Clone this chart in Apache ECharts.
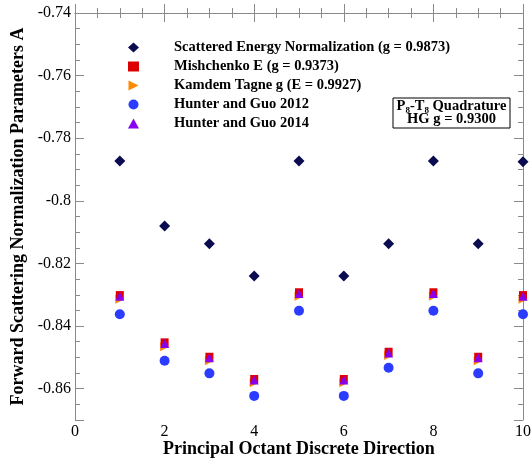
<!DOCTYPE html>
<html>
<head>
<meta charset="utf-8">
<script src="https://cdn.jsdelivr.net/npm/echarts@6/dist/echarts.min.js"></script>
<style>html,body{margin:0;padding:0;background:#fff}#c{width:532px;height:460px}</style>
</head>
<body>
<div id="c"></div>
<script>
// ---- data ----
const directions = [1, 2, 3, 4, 5, 6, 7, 8, 9, 10];
const scatteredEnergy = [-0.7873, -0.8080, -0.8137, -0.8240, -0.7873, -0.8240, -0.8137, -0.7873, -0.8137, -0.7875];
const mishchenko = [-0.8301, -0.8452, -0.8498, -0.8569, -0.8292, -0.8569, -0.8482, -0.8292, -0.8498, -0.8301];
const kamdemTagne = [-0.8314, -0.8466, -0.8511, -0.8581, -0.8305, -0.8581, -0.8494, -0.8305, -0.8511, -0.8314];
const hunterGuo2012 = [-0.8362, -0.8511, -0.8551, -0.8623, -0.8351, -0.8623, -0.8533, -0.8351, -0.8551, -0.8362];
const hunterGuo2014 = [-0.8305, -0.8456, -0.8501, -0.8572, -0.8296, -0.8572, -0.8486, -0.8296, -0.8501, -0.8305];
const seriesNames = [
  'Scattered Energy Normalization (g = 0.9873)',
  'Mishchenko E (g = 0.9373)',
  'Kamdem Tagne g (E = 0.9927)',
  'Hunter and Guo 2012',
  'Hunter and Guo 2014'
];
const yTickLabels = ['-0.74', '-0.76', '-0.78', '-0.8', '-0.82', '-0.84', '-0.86'];
const xTickLabels = ['0', '2', '4', '6', '8', '10'];

const pairs = ys => directions.map((x, i) => [x, ys[i]]);
const serif = '"Liberation Serif", "Times New Roman", serif';
const axisGray = '#8a8a8a';

const chart = echarts.init(document.getElementById('c'), null, {renderer: 'canvas'});

const baseY = {
  type: 'value', min: -0.87, max: -0.74, interval: 0.01, scale: true,
  axisLine: {show: true, lineStyle: {color: axisGray, width: 1}},
  axisTick: {show: true, inside: true, length: 5, lineStyle: {color: axisGray}},
  minorTick: {show: true, splitNumber: 2, length: 5, lineStyle: {color: axisGray}},
  splitLine: {show: false}
};
const longY = {
  type: 'value', min: 0, max: 13, interval: 2, inverse: true,
  axisLine: {show: false},
  axisTick: {show: true, inside: true, length: 9, lineStyle: {color: axisGray}},
  axisLabel: {show: false},
  splitLine: {show: false}
};

chart.setOption({
  animation: false,
  backgroundColor: '#fff',
  grid: {left: 75, right: 9, top: 13, bottom: 40, containLabel: false, outerBoundsMode: 'none'},
  xAxis: [
    {
      type: 'value', min: 0, max: 10, interval: 2, position: 'bottom',
      name: 'Principal Octant Discrete Direction', nameLocation: 'middle', nameGap: 20,
      nameMoveOverlap: false,
      nameTextStyle: {fontFamily: serif, fontWeight: 'bold', fontSize: 18, color: '#000'},
      axisLine: {show: true, lineStyle: {color: axisGray, width: 1}},
      axisTick: {show: true, inside: true, length: 9, lineStyle: {color: axisGray}},
      minorTick: {show: true, splitNumber: 4, length: 5, lineStyle: {color: axisGray}},
      axisLabel: {margin: 4, fontFamily: serif, fontSize: 16, color: '#000',
        formatter: v => xTickLabels[Math.round(v / 2)] ?? ''},
      splitLine: {show: false}
    },
    {
      type: 'value', min: 0, max: 10, interval: 2, position: 'top',
      axisLine: {show: true, lineStyle: {color: axisGray, width: 1}},
      axisTick: {show: true, inside: true, length: 9, lineStyle: {color: axisGray}},
      minorTick: {show: true, splitNumber: 4, length: 5, lineStyle: {color: axisGray}},
      axisLabel: {show: false},
      splitLine: {show: false}
    }
  ],
  yAxis: [
    Object.assign({}, baseY, {
      position: 'left',
      name: 'Forward Scattering Normalization Parameters A', nameLocation: 'middle', nameGap: 48,
      nameMoveOverlap: false,
      nameTextStyle: {fontFamily: serif, fontWeight: 'bold', fontSize: 18, color: '#000'},
      axisLabel: {margin: 4, fontFamily: serif, fontSize: 16, color: '#000',
        formatter: v => {
          const k = Math.round((-0.74 - v) * 100);
          return (k % 2 === 0) ? (yTickLabels[k / 2] ?? '') : '';
        }}
    }),
    Object.assign({}, longY, {position: 'left'}),
    Object.assign({}, baseY, {position: 'right', axisLabel: {show: false}}),
    Object.assign({}, longY, {position: 'right'})
  ],
  legend: {
    orient: 'vertical', left: 123, top: 35,
    itemWidth: 11, itemHeight: 10, itemGap: 4,
    data: seriesNames,
    textStyle: {fontFamily: serif, fontWeight: 'bold', fontSize: 14.5, color: '#000', lineHeight: 14, padding: [0, 0, 0, 30]}
  },
  series: [
    {name: seriesNames[0], type: 'scatter', symbol: 'diamond', symbolSize: 11,
      itemStyle: {color: '#0b0b52', opacity: 1}, data: pairs(scatteredEnergy)},
    {name: seriesNames[2], type: 'scatter', symbol: 'path://M0,0L10,5L0,10Z', symbolSize: 9,
      itemStyle: {color: '#ff8a00', opacity: 1}, data: pairs(kamdemTagne)},
    {name: seriesNames[1], type: 'scatter', symbol: 'rect', symbolSize: 8,
      itemStyle: {color: '#dd0000', opacity: 1}, data: pairs(mishchenko)},
    {name: seriesNames[3], type: 'scatter', symbol: 'circle', symbolSize: 10,
      itemStyle: {color: '#2b3cff', opacity: 1}, data: pairs(hunterGuo2012)},
    {name: seriesNames[4], type: 'scatter', symbol: 'triangle', symbolSize: 9,
      itemStyle: {color: '#8800ee', opacity: 1}, data: pairs(hunterGuo2014)}
  ],
  graphic: [
    {type: 'rect', shape: {x: 393, y: 98, width: 117, height: 30},
      style: {fill: '#fff', stroke: '#000', lineWidth: 1}, z: 10},
    {type: 'text', x: 451.5, y: 100, z: 11,
      style: {
        text: '{a|P}{s|8}{a|-T}{s|8}{a| Quadrature}\n{a|HG g = 0.9300}',
        align: 'center',
        rich: {
          a: {fontFamily: serif, fontWeight: 'bold', fontSize: 14.5, lineHeight: 13, fill: '#000'},
          s: {fontFamily: serif, fontWeight: 'bold', fontSize: 9, lineHeight: 13, padding: [8, 0, 0, 0], fill: '#000'}
        }
      }}
  ]
});
</script>
</body>
</html>
